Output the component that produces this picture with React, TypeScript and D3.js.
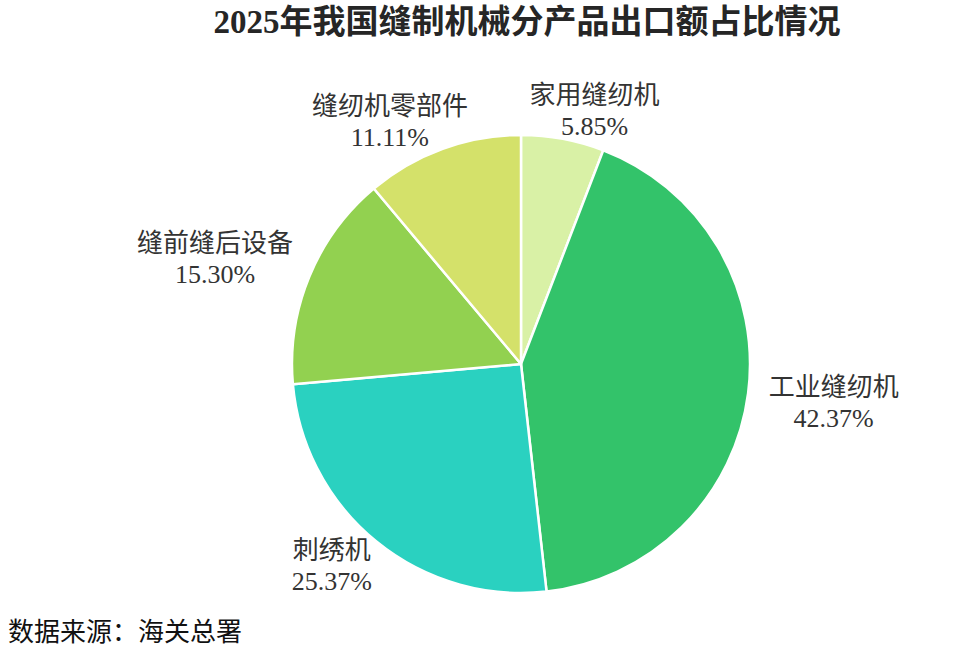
import React from "react";
import * as d3 from "d3";

const categories = ["家用缝纫机", "工业缝纫机", "刺绣机", "缝前缝后设备", "缝纫机零部件"];
const shares = [5.85, 42.37, 25.37, 15.3, 11.11];
const shareLabels = ["5.85%", "42.37%", "25.37%", "15.30%", "11.11%"];
const colors = ["#d9f1a6", "#33c36a", "#2ad1c0", "#92d150", "#d4e16a"];
const title = "2025年我国缝制机械分产品出口额占比情况";
const source = "数据来源：海关总署";

const W = 971;
const H = 657;
const cx = 521;
const cy = 364;
const R = 229;
const FONT = "'Liberation Serif', 'Times New Roman', 'Noto Sans CJK SC', serif";
const LFS = 26;
const LINE = 31;

export default function App() {
  const pie = d3.pie<number>().sort(null).value((d) => d)(shares);
  const arc = d3.arc<d3.PieArcDatum<number>>().innerRadius(0).outerRadius(R);

  return (
    <svg width={W} height={H} style={{ position: "absolute", left: 0, top: 0 }}>
      <rect width={W} height={H} fill="#ffffff" />
      <text x={527} y={33} textAnchor="middle" fontFamily={FONT} fontSize={33} fontWeight="bold" fill="#262626">
        {title}
      </text>
      <g transform={`translate(${cx},${cy})`}>
        {pie.map((p, i) => (
          <path key={i} d={arc(p) || ""} fill={colors[i]} stroke="#ffffff" strokeWidth={2.5} strokeLinejoin="round" />
        ))}
        {pie.map((p, i) => {
          const a = (p.startAngle + p.endAngle) / 2;
          const ux = Math.sin(a);
          const uy = -Math.cos(a);
          const w = Math.max(categories[i].length * LFS, shareLabels[i].length * LFS * 0.5);
          const h = 56;
          const x = (R + 21) * ux + Math.sign(ux) * (w / 2) * Math.sqrt(Math.abs(ux));
          const y = R * uy + Math.sign(uy) * (h / 2) * Math.sqrt(Math.abs(uy));
          return (
            <text key={"l" + i} textAnchor="middle" fontFamily={FONT} fontSize={LFS} fill="#333333">
              <tspan x={x} y={y - 7}>{categories[i]}</tspan>
              <tspan x={x} y={y - 7 + LINE}>{shareLabels[i]}</tspan>
            </text>
          );
        })}
      </g>
      <text x={8} y={641} fontFamily={FONT} fontSize={LFS} fill="#111111">
        {source}
      </text>
    </svg>
  );
}
